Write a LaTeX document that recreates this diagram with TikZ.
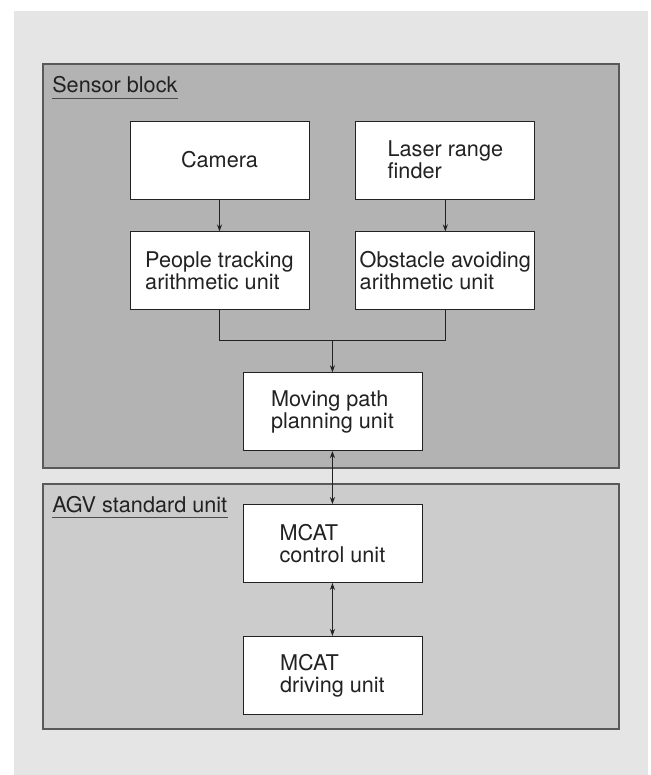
\documentclass[tikz,border=0pt]{standalone}
\usepackage{fontspec}
\setmainfont{TeX Gyre Heros}
\usepackage{tikz}
\usetikzlibrary{positioning,calc,arrows.meta}

\definecolor{panelgray}{HTML}{E5E5E5}
\definecolor{sensorgray}{HTML}{B3B3B3}
\definecolor{agvgray}{HTML}{CCCCCC}
\definecolor{inkgray}{HTML}{222222}

\begin{document}
\begin{tikzpicture}[>={Stealth[length=5pt,width=3.6pt]},
        font=\fontsize{15.4}{15.6}\selectfont,
        unit box/.style={rectangle, draw=inkgray, line width=0.6pt, fill=white,
        text=inkgray, minimum width=4.475cm, minimum height=1.95cm,
        inner sep=0pt, align=left},
        block title/.style={anchor=base west, inner xsep=0pt, inner ysep=4pt,
        text depth=0pt, text=inkgray},
        block/.style={draw=black!65, line width=1pt}
        ]

        \useasboundingbox (0,0) rectangle (16.25,-19.375);
        \fill[white] (0,0) rectangle (16.25,-19.375);
        \fill[panelgray] (0.35,-0.275) rectangle (16.2,-19.375);

        % the two blocks
        \filldraw[block, fill=sensorgray] (1.075,-1.6) rectangle (15.475,-11.7);
        \filldraw[block, fill=agvgray] (1.075,-12.1) rectangle (15.475,-18.225);

        \node [block title] (sensor) at (1.3,-2.325) {Sensor block};
        \node [block title] (agv) at (1.3,-12.8) {AGV standard unit};
        \draw[black!70, line width=0.8pt] (sensor.south west) -- (sensor.south east);
        \draw[black!70, line width=0.8pt] (agv.south west) -- (agv.south east);

        \node [unit box] (camera) at (5.4875,-4.0) {Camera};
        \node [unit box] (laser) [right=1.15cm of camera] {Laser range\\finder};
        \node [unit box] (people) [below=0.8cm of camera] {People tracking\\arithmetic unit};
        \node [unit box] (obstacle) [below=0.8cm of laser] {Obstacle avoiding\\arithmetic unit};
        \coordinate (join) at ($(people.south)!0.5!(obstacle.south)+(0,-0.75)$);
        \node [unit box] (moving) [below=0.8cm of join] {Moving path\\planning unit};
        \node [unit box] (control) [below=1.325cm of moving] {MCAT\\control unit};
        \node [unit box] (driving) [below=1.325cm of control] {MCAT\\driving unit};

        \draw[inkgray, line width=0.6pt] (people.south) |- (join) -| (obstacle.south);

        \path[draw, inkgray, line width=0.6pt]
        (camera) edge [->] (people)
        (laser) edge [->] (obstacle)
        (join) edge [->] (moving)
        (moving) edge [<->] (control)
        (control) edge [<->] (driving)
        ;
     \end{tikzpicture}
\end{document}
